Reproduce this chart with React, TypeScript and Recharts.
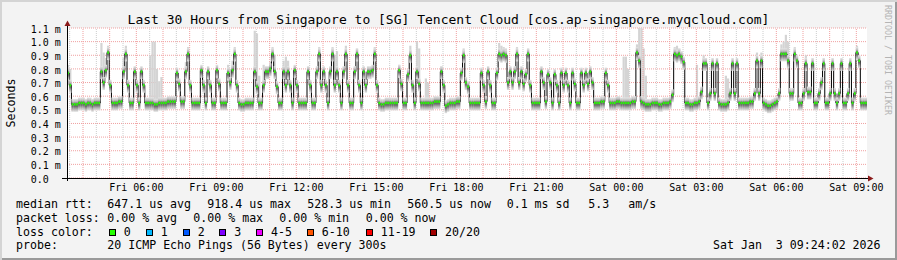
import React from "react";
import {
  ComposedChart,
  Line,
  Bar,
  XAxis,
  YAxis,
  CartesianGrid,
  ReferenceLine,
} from "recharts";

const mono = "'DejaVu Sans Mono', monospace";

const title =
  "Last 30 Hours from Singapore to [SG] Tencent Cloud [cos.ap-singapore.myqcloud.com]";

// median rtt of each 300 s sample, in 10 us units
const medianRtt = [
  77, 68, 54, 54, 54, 55, 55, 55, 54, 55, 55, 54, 55, 55, 55, 78, 70, 79, 92, 68,
  55, 55, 55, 56, 56, 78, 91, 68, 55, 55, 78, 68, 55, 78, 68, 55, 55, 55, 55, 54,
  54, 55, 55, 55, 55, 56, 56, 56, 56, 77, 69, 56, 56, 78, 91, 68, 55, 55, 55, 55,
  79, 68, 55, 78, 68, 55, 55, 79, 69, 55, 55, 55, 77, 70, 79, 91, 68, 55, 54, 54,
  55, 55, 55, 55, 78, 67, 55, 55, 68, 78, 78, 80, 91, 78, 67, 55, 55, 78, 68, 78,
  68, 55, 79, 68, 55, 55, 55, 55, 78, 68, 55, 55, 78, 91, 68, 78, 68, 55, 78, 91,
  68, 78, 68, 55, 78, 91, 68, 55, 55, 78, 91, 68, 55, 78, 68, 78, 78, 79, 91, 68,
  55, 54, 54, 55, 55, 55, 55, 55, 55, 79, 69, 55, 55, 76, 90, 68, 55, 78, 69, 55,
  55, 55, 55, 55, 55, 56, 56, 56, 78, 68, 53, 54, 55, 55, 55, 56, 56, 77, 90, 70,
  67, 55, 55, 55, 55, 55, 77, 68, 56, 78, 68, 55, 55, 77, 91, 90, 91, 90, 70, 78,
  70, 78, 91, 70, 78, 69, 76, 91, 68, 55, 55, 55, 55, 78, 70, 56, 76, 70, 55, 76,
  68, 55, 77, 68, 77, 68, 55, 77, 69, 55, 55, 77, 68, 77, 69, 78, 70, 55, 55, 55,
  56, 56, 77, 68, 55, 55, 55, 56, 56, 55, 55, 55, 55, 55, 56, 56, 92, 86, 56, 55,
  54, 54, 54, 55, 55, 55, 54, 54, 55, 55, 55, 56, 61, 91, 90, 91, 89, 85, 55, 55,
  54, 54, 55, 55, 56, 63, 84, 84, 55, 62, 84, 62, 84, 55, 54, 54, 54, 55, 62, 84,
  62, 84, 55, 55, 55, 55, 55, 56, 56, 62, 86, 62, 86, 55, 54, 53, 53, 54, 55, 56,
  62, 91, 91, 91, 86, 62, 62, 91, 86, 55, 55, 62, 84, 63, 63, 84, 55, 55, 62, 70,
  84, 55, 55, 62, 84, 62, 55, 62, 84, 55, 55, 62, 84, 55, 62, 92, 86, 55, 55, 55,
];

// samples whose slowest pings stick out above the smoke, and how far (10 us units)
const spikeAt = [
  0, 1, 15, 16, 17, 18, 25, 26, 37, 38, 39, 40, 41, 42, 53, 54, 72, 73, 74, 75,
  84, 85, 86, 88, 91, 92, 93, 97, 98, 99, 113, 119, 120, 121, 125, 130, 138, 149,
  154, 157, 158, 161, 162, 168, 178, 194, 195, 196, 197, 202, 207, 250, 251, 252,
  256, 257, 258, 259, 260, 273, 274, 275, 283, 286, 296, 297, 310, 312, 321, 322,
  323, 324, 327, 332, 355,
];
const spikeTop = [
  83, 80, 99, 92, 88, 97, 88, 97, 90, 100, 100, 80, 71, 74, 85, 96, 83, 80, 86, 96,
  108, 106, 75, 83, 85, 96, 90, 86, 89, 86, 96, 96, 90, 93, 97, 95, 96, 83,
  97, 100, 95, 73, 70, 82, 95, 99, 97, 96, 95, 96, 95, 89, 89, 80,
  98, 110, 110, 95, 75, 96, 97, 95, 83, 90, 75, 73, 92, 92, 98, 100,
  105, 100, 96, 90, 97,
];

const startHour = 3.4; // Fri 03:24
const endHour = 33.4; // Sat 09:24
const sampleHours = 300 / 3600;

const timeTicks = [6, 9, 12, 15, 18, 21, 24, 27, 30, 33];
const timeLabels = [
  "Fri 06:00", "Fri 09:00", "Fri 12:00", "Fri 15:00", "Fri 18:00",
  "Fri 21:00", "Sat 00:00", "Sat 03:00", "Sat 06:00", "Sat 09:00",
];
const rttTicks = [0, 0.1, 0.2, 0.3, 0.4, 0.5, 0.6, 0.7, 0.8, 0.9, 1.0, 1.1];

const lossLabels = ["0", "1", "2", "3", "4-5", "6-10", "11-19", "20/20"];
const lossColors = ["#26ff00", "#00b8ff", "#0059ff", "#7e00ff", "#ee00ff", "#ff5500", "#ff0000", "#a10000"];
const lossBoxX = [108.7, 145.7, 182.7, 219.3, 256, 306.7, 365.7, 430];

const spikeMap = new Map(spikeAt.map((i, k) => [i, spikeTop[k]]));
const rows = medianRtt.map((v, i) => ({
  t: startHour + (i + 0.5) * sampleHours,
  med: v / 100,
  spike: spikeMap.has(i) ? [v / 100, (spikeMap.get(i) as number) / 100] : null,
}));

const halfHours: number[] = [];
for (let h = 3.5; h < endHour; h += 0.5) halfHours.push(h);

const RttTick = (props: any) => {
  const { x, y, payload } = props;
  const v = payload.value as number;
  return (
    <text x={x - 36.3} y={y} dy={4.6} fontSize={10} fontFamily={mono} fill="#000">
      {v === 0 ? "0.0" : `${v.toFixed(1)} m`}
    </text>
  );
};

// the ping spread of one sample: a column of grey smoke around its median
const SmokeColumn = (props: any) => {
  const { cx, cy, index } = props;
  if (cx == null || cy == null) return <g key={index} />;
  return <rect key={index} x={cx - 1.2} y={cy - 5.5} width={2.4} height={13} fill="url(#smoke)" />;
};

const GreenDot = (props: any) => {
  const { cx, cy, index } = props;
  if (cx == null || cy == null) return <g key={index} />;
  return <rect key={index} x={cx - 0.8} y={cy - 1.2} width={1.6} height={2.4} fill="#26ff00" />;
};

const Txt = ({ x, y, children }: { x: number; y: number; children: React.ReactNode }) => (
  <div style={{ position: "absolute", left: x, top: y, fontSize: 11.6, lineHeight: "14px", whiteSpace: "pre" }}>
    {children}
  </div>
);

const rowTop = [197.3, 211, 224.7, 238.4];

export default function App() {
  return (
    <div
      style={{
        position: "absolute",
        left: 0,
        top: 0,
        width: 897,
        height: 260,
        background: "#f3f3f3",
        boxShadow: "inset 2px 2px 0 #d4d4d4, inset -2px -2px 0 #9a9a9a",
        fontFamily: mono,
        color: "#000",
        overflow: "hidden",
      }}
    >
      <div style={{ position: "absolute", left: 0, top: 11.5, width: 897, textAlign: "center", fontSize: 13, lineHeight: "16px", whiteSpace: "pre" }}>
        {title}
      </div>
      <div
        style={{
          position: "absolute",
          left: -19.5,
          top: 95.5,
          width: 60,
          height: 14,
          textAlign: "center",
          fontSize: 11.6,
          lineHeight: "14px",
          transform: "rotate(-90deg)",
        }}
      >
        Seconds
      </div>
      <div
        style={{
          position: "absolute",
          left: 827.5,
          top: 55,
          width: 120,
          height: 10,
          textAlign: "center",
          fontSize: 8.3,
          lineHeight: "10px",
          color: "#b4b4b4",
          whiteSpace: "pre",
          transform: "rotate(90deg)",
        }}
      >
        RRDTOOL / TOBI OETIKER
      </div>

      <div style={{ position: "absolute", left: 0, top: 0 }}>
        <ComposedChart width={897} height={260} data={rows} margin={{ top: 28, right: 30, bottom: 52, left: 17 }}>
          <defs>
            <linearGradient id="smoke" x1="0" y1="0" x2="0" y2="1">
              <stop offset="0%" stopColor="#e6e6e6" />
              <stop offset="22%" stopColor="#bcbcbc" />
              <stop offset="40%" stopColor="#606060" />
              <stop offset="58%" stopColor="#6c6c6c" />
              <stop offset="80%" stopColor="#b4b4b4" />
              <stop offset="100%" stopColor="#e4e4e4" />
            </linearGradient>
          </defs>
          <CartesianGrid vertical={false} fill="#ffffff" stroke="#f0a0a0" strokeDasharray="1 1" />
          {halfHours.map((h) => (
            <ReferenceLine
              key={h}
              x={h}
              stroke={Number.isInteger(h) ? "#f0a0a0" : "#cccccc"}
              strokeDasharray="1 1"
            />
          ))}
          <XAxis
            dataKey="t"
            type="number"
            domain={[startHour, endHour]}
            allowDataOverflow
            ticks={timeTicks}
            tickFormatter={(v) => timeLabels[timeTicks.indexOf(v)] ?? ""}
            tick={{ fontSize: 10, fontFamily: mono, fill: "#000" }}
            tickLine={false}
            axisLine={false}
            tickSize={0}
            tickMargin={6}
            interval={0}
            height={30}
          />
          <YAxis
            type="number"
            domain={[0, 1.1]}
            allowDataOverflow
            ticks={rttTicks}
            interval={0}
            tick={<RttTick />}
            tickLine={false}
            axisLine={false}
            tickSize={0}
            tickMargin={0}
            width={50}
          />
          <Bar dataKey="spike" barSize={2.2} fill="#d4d4d4" isAnimationActive={false} />
          <Line type="step" dataKey="med" stroke="none" dot={<SmokeColumn />} isAnimationActive={false} />
          <Line type="step" dataKey="med" stroke="#000000" strokeWidth={1} dot={<GreenDot />} isAnimationActive={false} />
        </ComposedChart>
      </div>

      <svg width={897} height={260} style={{ position: "absolute", left: 0, top: 0, pointerEvents: "none" }}>
        <line x1={67.5} y1={181} x2={67.5} y2={24} stroke="#000" strokeWidth={1} />
        <polygon points="67.5,20.5 64.5,26 70.5,26" fill="#8b1a1a" />
        <line x1={62} y1={178.5} x2={869} y2={178.5} stroke="#000" strokeWidth={1} />
        <polygon points="873.5,178.5 868,175.5 868,181.5" fill="#8b1a1a" />
      </svg>

      <Txt x={16} y={rowTop[0]}>median rtt:</Txt>
      <Txt x={107.3} y={rowTop[0]}>647.1 us avg</Txt>
      <Txt x={207.3} y={rowTop[0]}>918.4 us max</Txt>
      <Txt x={307.3} y={rowTop[0]}>528.3 us min</Txt>
      <Txt x={407.3} y={rowTop[0]}>560.5 us now</Txt>
      <Txt x={506.7} y={rowTop[0]}>0.1 ms sd</Txt>
      <Txt x={588.3} y={rowTop[0]}>5.3</Txt>
      <Txt x={628.3} y={rowTop[0]}>am/s</Txt>

      <Txt x={16} y={rowTop[1]}>packet loss:</Txt>
      <Txt x={107.3} y={rowTop[1]}>0.00 % avg</Txt>
      <Txt x={193.3} y={rowTop[1]}>0.00 % max</Txt>
      <Txt x={279.3} y={rowTop[1]}>0.00 % min</Txt>
      <Txt x={365.7} y={rowTop[1]}>0.00 % now</Txt>

      <Txt x={16} y={rowTop[2]}>loss color:</Txt>
      {lossLabels.map((l, k) => (
        <React.Fragment key={l}>
          <div
            style={{
              position: "absolute",
              left: lossBoxX[k],
              top: 228.7,
              width: 7,
              height: 7.5,
              boxSizing: "border-box",
              border: "1px solid #000",
              background: lossColors[k],
            }}
          />
          <Txt x={lossBoxX[k] + 15} y={rowTop[2]}>{l}</Txt>
        </React.Fragment>
      ))}

      <Txt x={16} y={rowTop[3]}>probe:</Txt>
      <Txt x={107.3} y={rowTop[3]}>20 ICMP Echo Pings (56 Bytes) every 300s</Txt>
      <Txt x={713} y={rowTop[3]}>Sat Jan  3 09:24:02 2026</Txt>
    </div>
  );
}
